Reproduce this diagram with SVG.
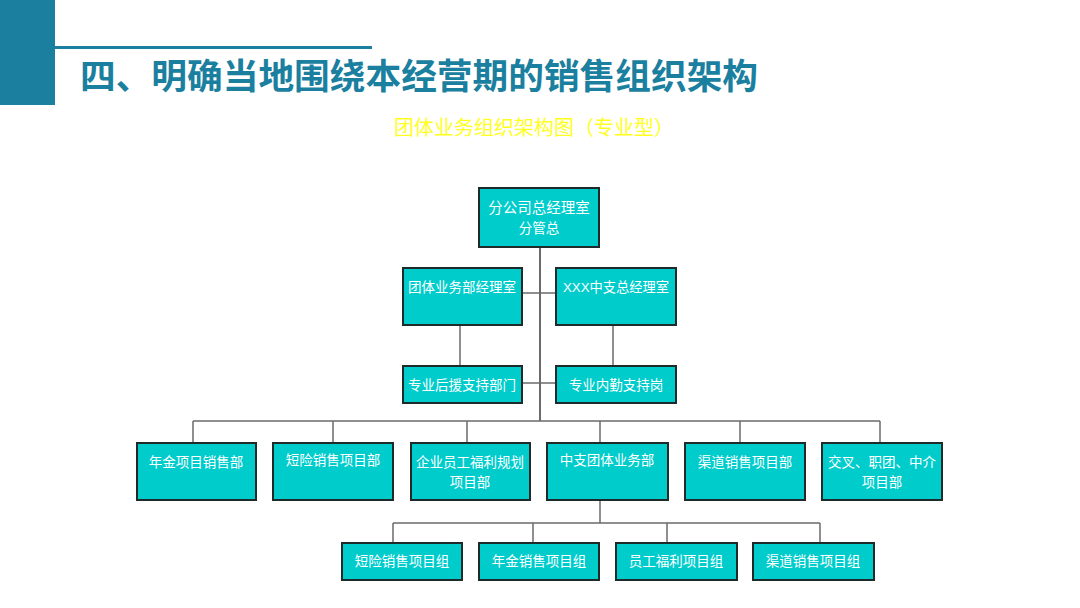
<svg xmlns="http://www.w3.org/2000/svg" width="1080" height="608" viewBox="0 0 1080 608">
<style>
.box{fill:#00CCCC;stroke:#1d2b2b;stroke-width:2}
.t{font-family:"Liberation Sans","Noto Sans CJK SC",sans-serif;font-size:13.5px;fill:#ffffff;text-anchor:middle}
.c{stroke:#6b6b6b;stroke-width:1.5;fill:none}
</style>
<rect width="1080" height="608" fill="#ffffff"/>
<rect x="0" y="0" width="55" height="105" fill="#1B7FA0"/>
<rect x="55" y="46" width="317" height="3" fill="#1B7FA0"/>
<text x="80" y="89" font-family="'Noto Sans CJK SC',sans-serif" font-weight="bold" font-size="35.7" fill="#1B7FA0">四、明确当地围绕本经营期的销售组织架构</text>
<text x="534" y="135" font-family="'Noto Sans CJK SC',sans-serif" font-size="20" fill="#FFFF22" text-anchor="middle">团体业务组织架构图（专业型）</text>
<g id="connectors">
<path class="c" d="M540 247V421" style="stroke-width:2"/>
<path class="c" d="M522 293H556M522 383H556M460 325V366M613 325V366"/>
<path class="c" d="M193 421H880M193 421V443M333 421V443M467 421V443M600 421V443M740 421V443M880 421V443"/>
<path class="c" d="M600 500V523M393 523H820M393 523V543M533 523V543M667 523V543M820 523V543"/>
</g>
<g id="n0"><rect class="box" x="479" y="188" width="120" height="59"/><text class="t" x="539" y="213" style="font-size:14.5px">分公司总经理室</text><text class="t" x="539" y="233">分管总</text></g>
<g id="n1"><rect class="box" x="403" y="268" width="119" height="57"/><text class="t" x="462" y="292">团体业务部经理室</text></g>
<g id="n2"><rect class="box" x="556" y="268" width="120" height="57"/><text class="t" x="616" y="292" textLength="106" lengthAdjust="spacingAndGlyphs">XXX中支总经理室</text></g>
<g id="n3"><rect class="box" x="403" y="366" width="119" height="37"/><text class="t" x="462" y="390">专业后援支持部门</text></g>
<g id="n4"><rect class="box" x="556" y="366" width="120" height="37"/><text class="t" x="616" y="390">专业内勤支持岗</text></g>
<g id="n5"><rect class="box" x="137" y="443" width="119" height="57"/><text class="t" x="196" y="467">年金项目销售部</text></g>
<g id="n6"><rect class="box" x="273" y="443" width="120" height="57"/><text class="t" x="333" y="465">短险销售项目部</text></g>
<g id="n7"><rect class="box" x="411" y="443" width="119" height="57"/><text class="t" x="470" y="467">企业员工福利规划</text><text class="t" x="470" y="487">项目部</text></g>
<g id="n8"><rect class="box" x="547" y="443" width="121" height="57"/><text class="t" x="607" y="465">中支团体业务部</text></g>
<g id="n9"><rect class="box" x="685" y="443" width="120" height="57"/><text class="t" x="745" y="467">渠道销售项目部</text></g>
<g id="n10"><rect class="box" x="822" y="443" width="120" height="57"/><text class="t" x="882" y="467">交叉、职团、中介</text><text class="t" x="882" y="487">项目部</text></g>
<g id="n11"><rect class="box" x="342" y="543" width="120" height="37"/><text class="t" x="402" y="566">短险销售项目组</text></g>
<g id="n12"><rect class="box" x="479" y="543" width="120" height="37"/><text class="t" x="539" y="566">年金销售项目组</text></g>
<g id="n13"><rect class="box" x="616" y="543" width="121" height="37"/><text class="t" x="676" y="566">员工福利项目组</text></g>
<g id="n14"><rect class="box" x="753" y="543" width="121" height="37"/><text class="t" x="813" y="566">渠道销售项目组</text></g>
</svg>
